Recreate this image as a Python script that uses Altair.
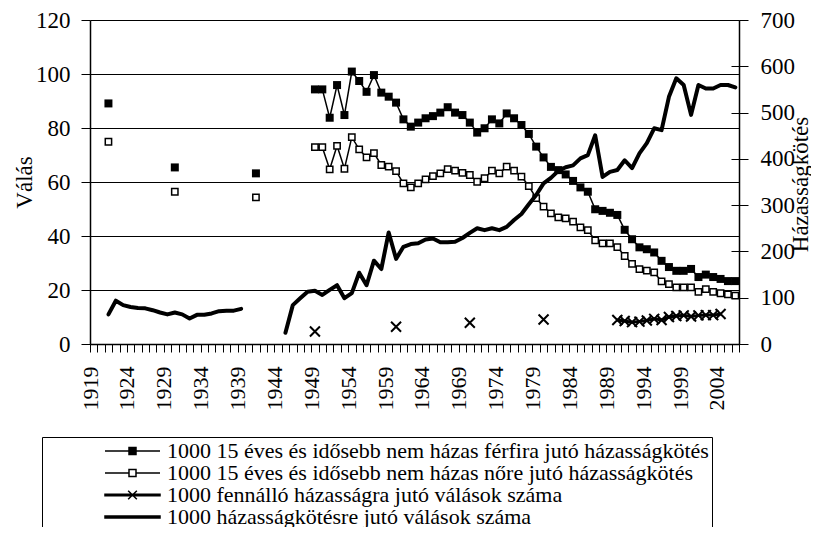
import altair as alt
import pandas as pd

# ---------------- data ----------------
men_years = [1921, 1930, 1941] + list(range(1949, 2007))
men_values = [89.1, 65.4, 63.2,
              94.3, 94.3, 83.8, 95.9, 84.8, 100.9, 97.4, 93.4, 99.6, 93.1,
              91.6, 89.4, 83.2, 80.5, 82.0, 83.6, 84.4, 85.7, 87.7, 85.7,
              84.8, 82.0, 78.3, 79.9, 83.2, 81.7, 85.4, 83.6, 81.1, 77.8,
              73.1, 69.1, 65.6, 64.4, 62.8, 60.4, 58.0, 56.4, 49.9, 49.3,
              48.6, 47.8, 42.3, 38.8, 35.8, 35.1, 33.9, 30.8, 28.5, 27.1,
              27.1, 27.8, 24.8, 25.7, 24.8, 24.1, 23.3, 23.3]

women_years = [1921, 1930, 1941] + list(range(1949, 2007))
women_values = [74.9, 56.4, 54.3,
                72.9, 72.9, 64.7, 73.4, 64.9, 76.6, 72.1, 69.1, 70.7, 66.3,
                65.7, 64.0, 59.5, 58.0, 59.5, 61.0, 62.2, 63.2, 64.8, 64.2,
                63.4, 62.6, 60.1, 61.4, 64.2, 63.2, 65.7, 64.2, 62.0, 58.5,
                54.0, 50.9, 48.4, 46.9, 46.5, 45.3, 43.2, 42.2, 38.4, 37.3,
                37.3, 35.9, 32.6, 29.7, 27.7, 27.2, 26.5, 23.2, 22.2, 21.0,
                21.0, 21.0, 19.3, 20.3, 19.3, 18.8, 18.4, 17.9]

existing_years = [1949, 1960, 1970, 1980] + list(range(1990, 2005))
existing_values = [4.6, 6.4, 7.9, 9.1,
                   8.9, 8.5, 8.1, 8.3, 8.7, 9.3, 8.9, 10.0, 10.4, 10.6,
                   10.2, 10.6, 10.7, 10.7, 11.1]

permarriage_years = list(range(1921, 1940)) + list(range(1945, 2007))
permarriage_values = [64, 93.6, 84, 80, 78, 77, 73, 68, 64, 68,
                      64, 55, 63, 63, 66, 71, 72, 72, 76,
                      24.4, 84, 98.7, 113, 115, 106, 117, 127, 99, 110,
                      154, 127, 180, 162, 241, 184, 210, 216, 217.5, 225.7,
                      228, 220, 220, 221, 229, 240, 250, 246, 250, 246,
                      253, 268, 281, 302, 322, 347, 359, 374, 382, 386,
                      401, 408, 451, 361, 372, 376, 397, 380, 412, 434,
                      466, 462, 534, 574, 559.5, 495, 559.5, 552, 552, 559.5,
                      559.5, 554.5]

series_names = [
    "1000 15 éves és idősebb nem házas férfira jutó házasságkötés",
    "1000 15 éves és idősebb nem házas nőre jutó házasságkötés",
    "1000 fennálló házasságra jutó válások száma",
    "1000 házasságkötésre jutó válások száma",
]

left_ticks = [0, 20, 40, 60, 80, 100, 120]
right_ticks = [0, 100, 200, 300, 400, 500, 600, 700]
first_year, last_year = 1919, 2006


def frame(years, values, name):
    df = pd.DataFrame({"year": years, "value": values, "series": name})
    df["seg"] = (df["year"].diff().fillna(1) > 1).cumsum()
    return df


men = frame(men_years, men_values, series_names[0])
women = frame(women_years, women_values, series_names[1])
existing = frame(existing_years, existing_values, series_names[2])
permarriage = frame(permarriage_years, permarriage_values, series_names[3])

FONT = "Liberation Serif"

boundaries = [first_year - 0.5 + k for k in range(last_year - first_year + 2)]

x_enc = alt.X(
    "year:Q",
    scale=alt.Scale(domain=[first_year - 0.5, last_year + 0.5], nice=False, zero=False),
    axis=alt.Axis(
        values=boundaries,
        labelExpr="((datum.value + 0.5 - 1919) % 5 == 0) ? toString(datum.value + 0.5) : ''",
        labelAngle=270,
        labelFontSize=22,
        labelPadding=14,
        tickSize=8,
        labelOverlap=False,
        labelFlush=False,
        labelBound=False,
        grid=False,
        title=None,
    ),
)

y_left = alt.Y(
    "value:Q",
    scale=alt.Scale(domain=[0, 120], nice=False, zero=True),
    axis=alt.Axis(
        values=left_ticks,
        title="Válás",
        titleAngle=270,
        titleAlign="center",
        titleBaseline="middle",
        titleX=-66,
        titleY=162,
        labelFontSize=23,
        labelPadding=11,
        tickSize=9,
        grid=True,
        gridColor="black",
        gridWidth=1,
        labelFlush=False,
    ),
)

y_right = alt.Y(
    "value:Q",
    scale=alt.Scale(domain=[0, 700], nice=False, zero=True),
    axis=alt.Axis(
        orient="right",
        values=right_ticks,
        title="Házasságkötés",
        titleAngle=270,
        titleAlign="center",
        titleBaseline="middle",
        titleX=61,
        titleY=164,
        labelFontSize=23,
        labelPadding=12,
        tickSize=9,
        grid=False,
        labelFlush=False,
    ),
)

# inner half of the crossing ticks on the right axis
y_right_inner = alt.Y(
    "value:Q",
    scale=alt.Scale(domain=[0, 700], nice=False, zero=True),
    axis=alt.Axis(
        orient="right",
        values=right_ticks,
        offset=-8,
        tickSize=8,
        labels=False,
        domain=False,
        grid=False,
        title=None,
    ),
)

men_line = alt.Chart(men).mark_line(color="black", strokeWidth=1.5).encode(
    x=x_enc, y=y_left, detail="seg:N")
men_pts = alt.Chart(men).mark_point(
    shape="square", filled=True, color="black", size=64, opacity=1).encode(x=x_enc, y=y_left)

women_line = alt.Chart(women).mark_line(color="black", strokeWidth=1.5).encode(
    x=x_enc, y=y_left, detail="seg:N")
women_pts = alt.Chart(women).mark_point(
    shape="square", filled=True, fill="white", stroke="black", strokeWidth=1.5,
    size=40, opacity=1).encode(x=x_enc, y=y_left)

X_PATH = "M-1,-1L1,1M-1,1L1,-1"
exist_line = alt.Chart(existing).mark_line(color="black", strokeWidth=3).encode(
    x=x_enc, y=y_left, detail="seg:N")
exist_pts = alt.Chart(existing).mark_point(
    shape=X_PATH, filled=False, color="black", strokeWidth=2, size=100, opacity=1
).encode(x=x_enc, y=y_left)

# legend carrier (no visible marks, scale domain explicit)
legend_paths = [
    "M-3.93,0H3.93M-0.5,-0.5H0.5V0.5H-0.5Z",
    "M-3.93,0H-0.5M0.5,0H3.93M-0.5,-0.5H0.5V0.5H-0.5Z",
    "M-3.93,-0.11H3.93V0.11H-3.93ZM-0.62,-0.62L0.62,0.62M-0.62,0.62L0.62,-0.62",
    "M-3.93,-0.16H3.93V0.16H-3.93Z",
]
legend_fills = ["black", "white", "black", "black"]
legend_strokes = ["black", "black", "black", "black"]

NBSP_PAD = "\u00a0" * 18
label_expr = "datum.label == '%s' ? datum.label + '%s' : datum.label" % (series_names[0], NBSP_PAD)

leg = alt.Legend(
    title=None,
    orient="none",
    legendX=-48,
    legendY=417,
    direction="vertical",
    labelFont=FONT,
    labelFontSize=22,
    labelColor="black",
    labelLimit=2000,
    labelExpr=label_expr,
    strokeColor="black",
    fillColor="white",
    padding=3,
    rowPadding=0,
    symbolSize=196,
    symbolOffset=76.5,
    labelOffset=23.5,
    symbolStrokeColor="black",
    symbolStrokeWidth=1.5,
    symbolOpacity=1,
)

legend_df = pd.DataFrame({"series": series_names})
legend_layer = alt.Chart(legend_df).transform_filter("false").mark_point(
    color="black", opacity=1).encode(
    shape=alt.Shape("series:N", scale=alt.Scale(domain=series_names, range=legend_paths), legend=leg),
    fill=alt.Fill("series:N", scale=alt.Scale(domain=series_names, range=legend_fills), legend=leg),
    stroke=alt.Stroke("series:N", scale=alt.Scale(domain=series_names, range=legend_strokes), legend=leg),
)

left = alt.layer(men_line, men_pts, women_line, women_pts, exist_line, exist_pts, legend_layer)

right = alt.Chart(permarriage).mark_line(
    color="black", strokeWidth=4, strokeJoin="round", strokeCap="round").encode(
    x=x_enc, y=y_right, detail="seg:N")

right_inner = alt.Chart(permarriage).mark_line(opacity=0).encode(
    x=x_enc, y=y_right_inner, detail="seg:N")

chart = alt.layer(left, right_inner, right).resolve_scale(
    y="independent", shape="independent", fill="independent", stroke="independent"
).properties(
    width=649,
    height=324,
    autosize=alt.AutoSizeParams(type="none"),
    padding={"left": 82, "top": 12, "right": 72, "bottom": 183},
).configure(
    font=FONT,
).configure_axis(
    labelFont=FONT,
    titleFont=FONT,
    labelColor="black",
    titleColor="black",
    titleFontSize=23,
    titleFontWeight="normal",
    domainColor="black",
    domainWidth=1.5,
    tickColor="black",
    tickWidth=1,
).configure_view(
    stroke=None,
)

chart.save("out.html", embed_options={"renderer": "svg", "actions": False})
